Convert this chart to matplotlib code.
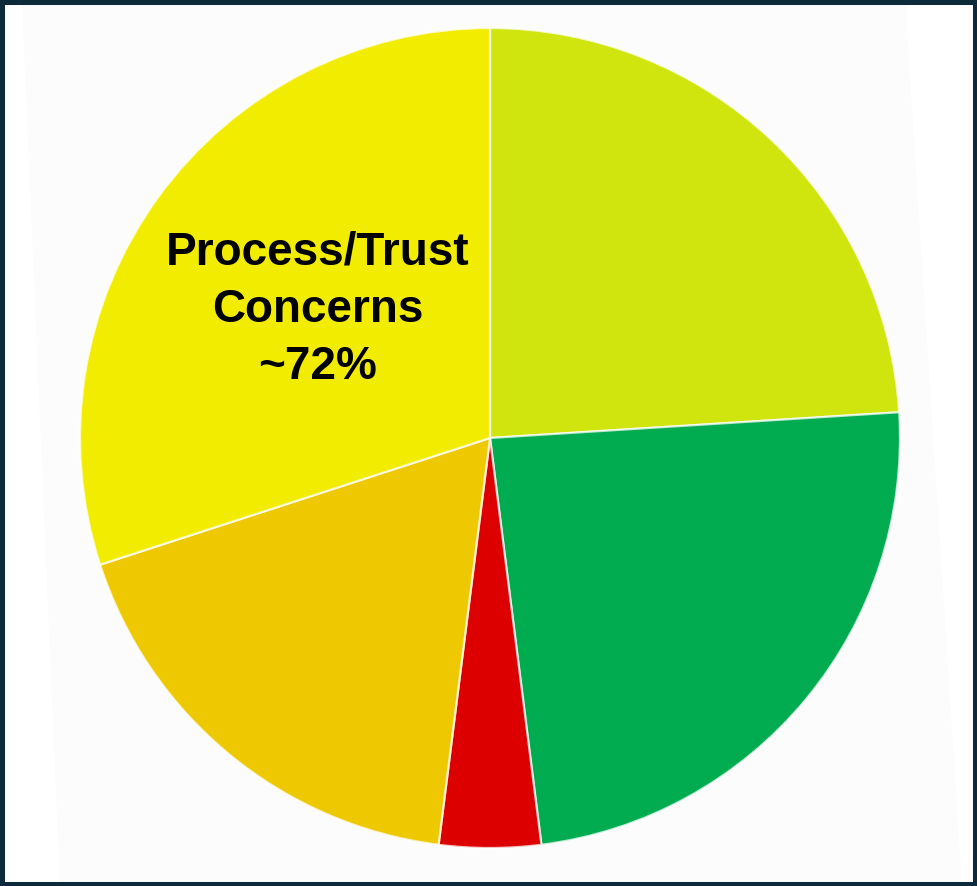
import matplotlib.pyplot as plt
from matplotlib.patches import Rectangle, Polygon

# share of responses, clockwise from 12 o'clock
categorias = ['Process', 'Positive', 'Negative', 'Timing', 'Trust']
valores = [24, 24, 4, 18, 30]
cores = ['#d0e40e', '#00ac4f', '#dc0000', '#eec800', '#f2ec00']
grupo_preocupacao = ['Process', 'Timing', 'Trust']

total_preocupacao = sum(v for c, v in zip(categorias, valores) if c in grupo_preocupacao)

fig = plt.figure(figsize=(9.77, 8.86), dpi=100)
fig.patch.set_facecolor('white')

# faint tilted backdrop behind the pie
W, H = 977, 886
fundo = Polygon([(22 / W, 1), (905 / W, 1), (962 / W, 0), (60 / W, 0)],
                closed=True, transform=fig.transFigure,
                facecolor='#fcfcfc', edgecolor='none', zorder=-5)
fig.patches.append(fundo)

raio = 410
cx, cy = 490, H - 438
ax = fig.add_axes([(cx - raio) / W, (cy - raio) / H, 2 * raio / W, 2 * raio / H])
ax.set_facecolor('none')
ax.set_zorder(1)

ax.pie(valores, colors=cores, startangle=90, counterclock=False, radius=1,
       wedgeprops=dict(edgecolor=(1, 1, 1, 0.75), linewidth=1.6))

ax.text(-0.42, 0.313, f'Process/Trust\nConcerns\n~{total_preocupacao}%',
        ha='center', va='center', fontsize=33, fontweight='bold',
        family='Liberation Sans', linespacing=1.4, color='black')

ax.set_xlim(-1, 1)
ax.set_ylim(-1, 1)
ax.set_aspect('auto')
ax.axis('off')

# dark frame around the figure
fig.patches.append(Rectangle((0, 0), 1, 1, transform=fig.transFigure,
                             fill=False, edgecolor='#0d2a3b', linewidth=6.5,
                             zorder=10))

fig.savefig('out.png', dpi=100)
